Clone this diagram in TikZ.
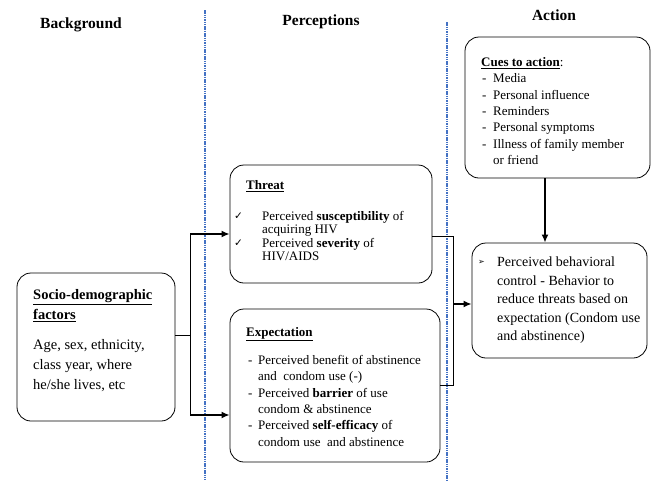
\documentclass[tikz,border=0pt]{standalone}
\usepackage{fontspec}
\setmainfont{Liberation Serif}
\newfontfamily\symfont{DejaVu Sans}
\usetikzlibrary{arrows.meta}
\definecolor{divblue}{RGB}{68,114,196}
\newcommand{\chk}{\makebox[29pt][l]{\hspace*{1pt}\raisebox{1pt}{\symfont\fontsize{10.5}{10.5}\selectfont ✓}}}
\newcommand{\dashitem}{\makebox[12pt][l]{\hspace*{2pt}-}}
\newcommand{\cuedash}{\makebox[12pt][l]{\hspace*{1pt}-}}
\tikzset{
  box/.style={draw, rounded corners=14pt, line width=0.8pt},
  head/.style={font=\fontsize{15.5}{18}\selectfont\bfseries},
  txt/.style={anchor=north west, inner sep=0pt, align=left},
  divider/.style={draw=divblue, line width=1.2pt, dash pattern=on 1.5pt off 0.8pt},
  link/.style={line width=0.7pt},
  arrowline/.style={->, line width=1.6pt},
}
\begin{document}
\begin{tikzpicture}[x=1pt, y=-1pt, >={Latex[length=8pt,width=7pt]}]
%		\draw [help lines] (0,0) grid (651,480);
		\useasboundingbox (0,0) rectangle (651,480);
		\draw [divider] (205,10) -- (205,480);
		\draw [divider] (447,22) -- (447,480);
		\node [head] (bghead) at (81,25) {Background};
		\node [head] (perchead) at (321,22) {Perceptions};
		\node [head] (acthead) at (554,15) {Action};
		% boxes
		\node [box, minimum width=158pt, minimum height=148pt] (socio) at (96,347) {};
		\node [box, minimum width=202pt, minimum height=118pt] (threat) at (331,224) {};
		\node [box, minimum width=210pt, minimum height=153pt] (expect) at (335,385.5) {};
		\node [box, minimum width=185pt, minimum height=141pt] (cues) at (557.5,107.5) {};
		\node [box, minimum width=175pt, minimum height=115pt] (control) at (559.5,300.5) {};
		% box texts
		\node [txt, font=\fontsize{14.5}{20}\selectfont] (sociotxt) at (33,289.5)
			{\underline{\textbf{Socio-demographic}}\\ \underline{\textbf{factors}}\\[10pt]
			 \fontsize{14.5}{21}\selectfont Age, sex, ethnicity,\\ class year, where\\ he/she lives, etc};
		\node [txt, font=\fontsize{13}{13.5}\selectfont] (threattxt) at (233,180)
			{\hspace*{13pt}\underline{\textbf{Threat}}\\[17.5pt]
			 \chk Perceived \textbf{susceptibility} of\\ \hspace*{29pt}acquiring HIV\\
			 \chk Perceived \textbf{severity} of\\ \hspace*{29pt}HIV/AIDS};
		\node [txt, font=\fontsize{13}{16.4}\selectfont] (expecttxt) at (246,327)
			{\underline{\textbf{Expectation}}\\[11.6pt]
			 \dashitem Perceived benefit of abstinence\\ \hspace*{12pt}and~ condom use (-)\\
			 \dashitem Perceived \textbf{barrier} of use\\ \hspace*{12pt}condom \& abstinence\\
			 \dashitem Perceived \textbf{self-efficacy} of\\ \hspace*{12pt}condom use~ and abstinence};
		\node [txt, font=\fontsize{13}{16.4}\selectfont] (cuestxt) at (481,57)
			{\underline{\textbf{Cues to action}}:\\
			 \cuedash Media\\ \cuedash Personal influence\\ \cuedash Reminders\\
			 \cuedash Personal symptoms\\ \cuedash Illness of family member\\ \hspace*{12pt}or friend};
		\node [txt, font=\fontsize{14}{18.5}\selectfont] (controltxt) at (478,257)
			{\makebox[19pt][l]{\raisebox{2pt}{\symfont\fontsize{8}{8}\selectfont ➢}}Perceived behavioral\\
			 \hspace*{19pt}control - Behavior to\\ \hspace*{19pt}reduce threats based on\\
			 \hspace*{19pt}expectation (Condom use\\ \hspace*{19pt}and abstinence)};
		% connectors
		\coordinate (fork) at (190,335);
		\coordinate (forktop) at (190,234);
		\coordinate (forkbot) at (190,415);
		\coordinate (mergetop) at (453,236);
		\coordinate (mergebot) at (453,385);
		\coordinate (merge) at (453,304);
		\draw [link] ([yshift=12pt]socio.east) -- (fork);
		\draw [link] (forktop) -- (forkbot);
		\draw [arrowline] (forktop) -- (forktop -| threat.west);
		\draw [arrowline] (forkbot) -- (forkbot -| expect.west);
		\draw [link] (mergetop -| threat.east) -- (mergetop) -- (mergebot) -- (mergebot -| expect.east);
		\draw [arrowline] (merge) -- (merge -| control.west);
		\draw [arrowline] ([xshift=-12.5pt]cues.south) -- ([xshift=-12.5pt]cues.south |- control.north);
	\end{tikzpicture}
\end{document}
